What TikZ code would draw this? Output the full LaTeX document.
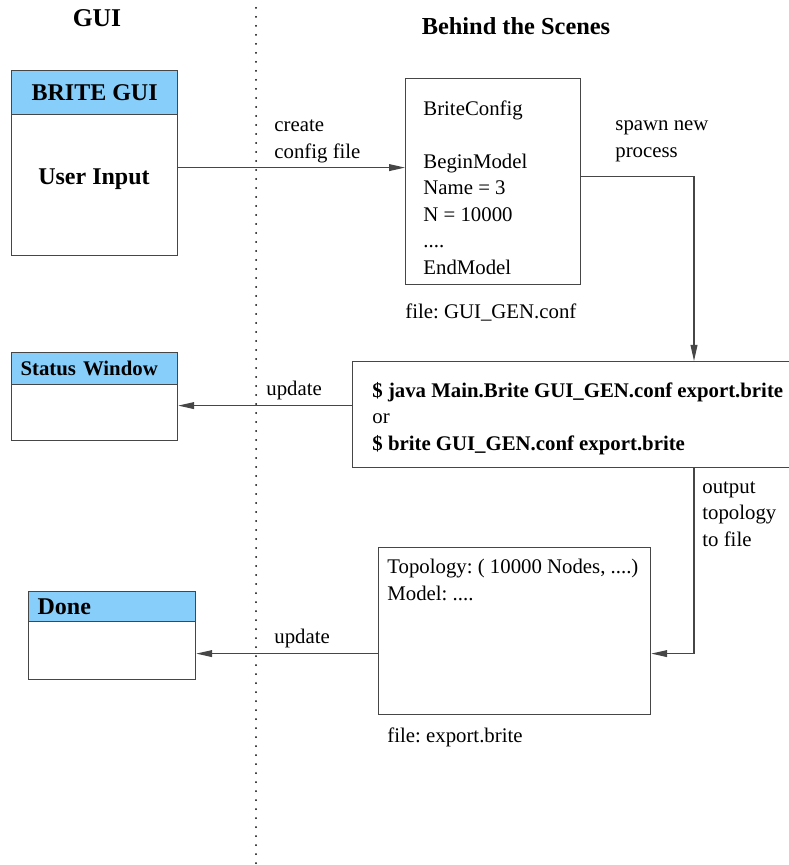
\documentclass[tikz,border=0pt]{standalone}
\usepackage{fontspec}
\setmainfont{Liberation Serif}
\usetikzlibrary{positioning, arrows.meta}
\frenchspacing

\definecolor{headblue}{RGB}{135,206,250}
\definecolor{linegray}{RGB}{70,70,70}

\tikzset{
  frame/.style={draw=linegray, line width=0.6pt, inner sep=0pt},
  winbox/.style={frame, fill=white, anchor=north west},
  winhead/.style={frame, fill=headblue, anchor=north},
  bigbold/.style={font=\fontsize{12}{14}\selectfont\bfseries},
  note/.style={align=left, inner sep=0pt},
  conn/.style={draw=linegray, line width=0.6pt, ->},
  divider/.style={line width=1pt, line cap=round, dash pattern=on 0pt off 4.5pt}
}

\begin{document}
\begin{tikzpicture}[>={Triangle[length=8pt, width=3.4pt]}, x=0.5pt, y=-0.5pt,
    font=\fontsize{10.4}{13.25}\selectfont]
    \useasboundingbox (0,0) rectangle (788,865);

    % column titles
    \node[font=\fontsize{12.8}{15}\selectfont\bfseries] (guiTitle) at (97,18) {GUI};
    \node[font=\fontsize{12.2}{15}\selectfont\bfseries] (sceneTitle) at (516,26) {Behind the Scenes};
    \draw[divider] (256,8) -- (256,865);

    % GUI side
    \node[winbox, minimum width=83pt, minimum height=92.5pt] (brite) at (11,70) {};
    \node[winhead, bigbold, minimum width=83pt, minimum height=22pt] (briteHead) at (brite.north) {BRITE GUI};
    \node[bigbold] (userInput) at (94,179) {User Input};

    \node[winbox, minimum width=83pt, minimum height=44pt] (status) at (11,352) {};
    \node[winhead, minimum width=83pt, minimum height=16pt, text width=74pt, align=left,
        font=\fontsize{10.4}{13}\selectfont\bfseries] (statusHead) at (status.north) {Status Window};

    \node[winbox, minimum width=83.5pt, minimum height=44pt] (done) at (28,591) {};
    \node[winhead, bigbold, minimum width=83.5pt, minimum height=15pt, text width=74.5pt,
        align=left] (doneHead) at (done.north) {Done};

    % behind the scenes
    \node[frame, anchor=north west, minimum width=87.5pt, minimum height=103pt] (cfg) at (405,78) {};
    \node[note, anchor=north west] (cfgText) at (423,100)
        {BriteConfig\\[13.25pt] BeginModel\\ Name = 3\\ N = 10000\\ ....\\ EndModel};
    \node[note, below right=9pt and 0pt of cfg.south west] (cfgName) {file: GUI\_GEN.conf};

    \node[frame, anchor=north west, minimum width=225pt, minimum height=53pt] (exec) at (352,361) {};
    \node[note, anchor=north west] (execText) at (372,382)
        {\textbf{\$ java Main.Brite GUI\_GEN.conf export.brite}\\ or\\
         \textbf{\$ brite GUI\_GEN.conf export.brite}};

    \node[frame, anchor=north west, minimum width=136pt, minimum height=83.5pt] (topo) at (378,547) {};
    \node[note, anchor=north west] (topoText) at (387,559) {Topology: ( 10000 Nodes, ....)\\ Model: ....};
    \node[note, below right=6pt and 4.5pt of topo.south west] (topoName) {file: export.brite};

    % connectors
    \coordinate (spawnX) at (694,0);
    \draw[conn] ([yshift=-2.25pt]brite.east) -- ([yshift=-2.25pt]brite.east -| cfg.west);
    \draw[conn] ([yshift=2.5pt]cfg.east) -| (exec.north -| spawnX);
    \draw[conn] ([yshift=4.5pt]exec.west) -- ([yshift=4.5pt]exec.west -| status.east);
    \draw[conn] (exec.south -| spawnX) |- ([yshift=-11.25pt]topo.east);
    \draw[conn] ([yshift=-11.25pt]topo.west) -- ([yshift=-11.25pt]topo.west -| done.east);

    % connector labels
    \node[note, anchor=south west] (createLbl) at (274,163) {create\\config file};
    \node[note, anchor=south west] (spawnLbl) at (615,162) {spawn new\\process};
    \node[note, anchor=west] (updateLbl) at (266,390) {update};
    \node[note, anchor=north west] (outputLbl) at (702,481) {output\\topology\\to file};
    \node[note, anchor=west] (doneLbl) at (274,638) {update};
\end{tikzpicture}
\end{document}
